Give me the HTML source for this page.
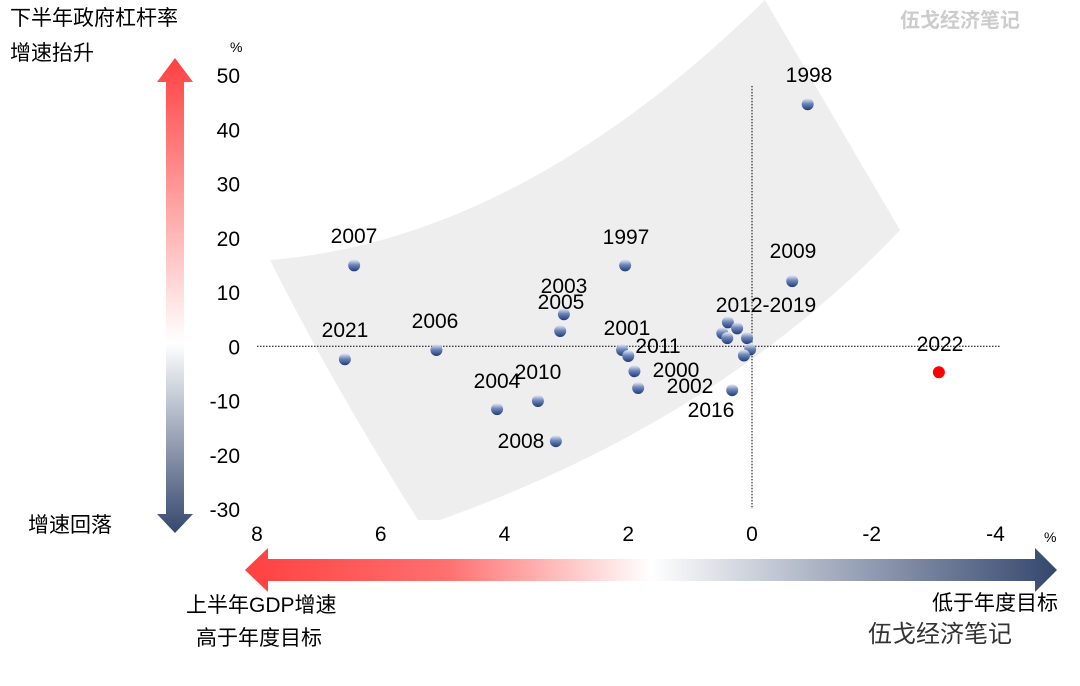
<!DOCTYPE html>
<html><head><meta charset="utf-8"><style>
body{margin:0;background:#fff;}
svg text{font-family:"Liberation Sans","Noto Sans CJK SC",sans-serif;}
</style></head><body>
<svg width="1080" height="681" viewBox="0 0 1080 681">
<defs>
<linearGradient id="vg" x1="0" y1="0" x2="0" y2="1"><stop offset="0" stop-color="#ff4040"/><stop offset="0.6" stop-color="#ffffff"/><stop offset="1" stop-color="#34476e"/></linearGradient>
<linearGradient id="hg" x1="0" y1="0" x2="1" y2="0"><stop offset="0" stop-color="#ff4040"/><stop offset="0.25" stop-color="#ff7070"/><stop offset="0.5" stop-color="#ffffff"/><stop offset="1" stop-color="#34476e"/></linearGradient>
<linearGradient id="dg" x1="0" y1="0" x2="0" y2="1"><stop offset="0" stop-color="#e8eefa"/><stop offset="0.45" stop-color="#6d86b8"/><stop offset="1" stop-color="#1f3a78"/></linearGradient>
</defs>
<path d="M270,260 Q520,240 765,0 L900,230 Q720,420 440,520 L418,520 Q330,380 270,260 Z" fill="#eeeeee"/>
<text x="10" y="25" font-size="21">下半年政府杠杆率</text>
<text x="10" y="60" font-size="21">增速抬升</text>
<text x="28" y="532" font-size="21">增速回落</text>
<text x="186" y="612" font-size="21">上半年GDP增速</text>
<text x="196" y="645" font-size="21">高于年度目标</text>
<text x="932" y="610" font-size="21">低于年度目标</text>
<text x="900" y="27" font-size="20" font-weight="bold" fill="#ccc">伍戈经济笔记</text>
<text x="868" y="642" font-size="24" fill="#333">伍戈经济笔记</text>
<polygon points="166,82 157,82 175,58 193,82 184,82 184,514 193,514 175,533 157,514 166,514" fill="url(#vg)"/>
<polygon points="268,559 268,548 245,570 268,592 268,581 1035,581 1035,592 1057,570 1035,548 1035,559" fill="url(#hg)"/>
<g id="axes"></g>
<g id="marks"></g>
</svg>
<script>
const yTicks=[50,40,30,20,10,0,-10,-20,-30];
const xTicks=[8,6,4,2,0,-2,-4];
const years=['1998','2007','2021','2006','2004','2010','2008','2003','2005','1997','2001','2011','2000','2002','2016','2009','2012a','2012b','2012c','2012d','2012e','2012f','2012g','2022'];
const xVals=[-0.9,6.43,6.58,5.1,4.12,3.46,3.17,3.04,3.1,2.05,2.1,2.0,1.9,1.84,0.32,-0.65,0.39,0.24,0.48,0.40,0.08,0.03,0.13,-3.02];
const yVals=[44.6,14.9,-2.4,-0.7,-11.6,-10.1,-17.5,5.9,2.8,14.9,-0.7,-1.8,-4.6,-7.7,-8.1,12,4.4,3.3,2.4,1.5,1.5,-0.6,-1.7,-4.8];
const labels=[['1998',809,82],['2007',354,243],['2021',345,337],['2006',435,328],['2004',497,388],['2010',538,379],['2008',521,448],['2003',564,293],['2005',561,309],['1997',626,244],['2001',627,335],['2011',658,353],['2000',676,377],['2002',690,393],['2016',711,417],['2009',793,258],['2012-2019',766,312],['2022',940,351]];
const X=v=>752-v*61.875, Y=v=>346.25-v*5.425;
const NS='http://www.w3.org/2000/svg';
const ax=document.getElementById('axes'), mk=document.getElementById('marks');
function mkEl(t,a,p){const e=document.createElementNS(NS,t);for(const k in a)e.setAttribute(k,a[k]);p.appendChild(e);return e;}
yTicks.forEach(t=>{const e=mkEl('text',{x:240,y:Y(t)+8,'font-size':21,'text-anchor':'end'},ax);e.textContent=t;

});
xTicks.forEach(t=>{const e=mkEl('text',{x:X(t)+(t<0?-4:0),y:541,'font-size':21,'text-anchor':'middle'},ax);e.textContent=t<0?'-'+(-t)+'':t;

});
let u=mkEl('text',{x:230,y:52,'font-size':14},ax);u.textContent='%';


u=mkEl('text',{x:1044,y:542,'font-size':14},ax);u.textContent='%';


let l=mkEl('line',{x1:257,x2:1000,y1:Y(0),y2:Y(0),stroke:'#000','stroke-dasharray':'1.5,1.5'},ax);


l=mkEl('line',{x1:X(0),x2:X(0),y1:Y(48),y2:Y(-30),stroke:'#000','stroke-dasharray':'1.5,1.5'},ax);


xVals.forEach((v,i)=>{const red=years[i]==='2022';
const c=mkEl('circle',{cx:X(v),cy:Y(yVals[i]),r:6,fill:red?'#ff0000':'url(#dg)'},mk);

});
labels.forEach(a=>{const e=mkEl('text',{x:a[1],y:a[2],'font-size':21,'text-anchor':'middle'},mk);e.textContent=a[0];

});
</script>
</body></html>
